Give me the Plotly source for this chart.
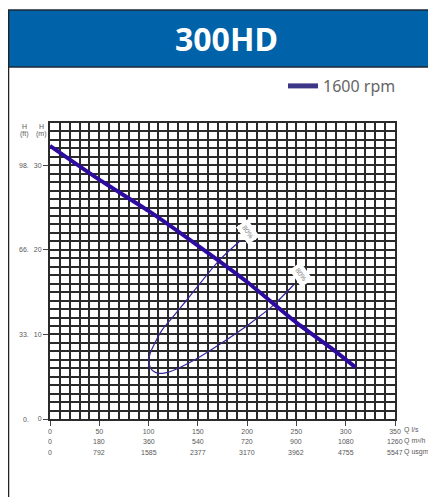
import plotly.graph_objects as go

# ---------------- data ----------------
title_text = "300HD"
series_name = "1600 rpm"

# head curve at 1600 rpm : flow (l/s) vs head (m)
curve_q = [0, 50, 100, 150, 200, 250, 285, 310]
curve_h = [32.3, 28.3, 24.6, 20.5, 16.2, 11.4, 8.4, 6.1]

# 80% efficiency iso-curve (loop)
eff_label = "80%"
eff_q = [193.3, 171.2, 139.0, 122.0, 113.6, 101.7, 100.2, 101.7, 105.0, 110.5,
         117.0, 129.0, 152.6, 173.0, 203.0, 227.0, 247.5]
eff_h = [21.1, 18.7, 14.1, 11.7, 10.5, 7.8, 6.9, 6.1, 5.65, 5.4,
         5.45, 5.95, 7.4, 8.9, 11.3, 13.5, 15.9]

# axis ticks
q_ls_ticks = [0, 50, 100, 150, 200, 250, 300, 350]
q_m3h_labels = ["0", "180", "360", "540", "720", "900", "1080", "1260"]
q_usgm_labels = ["0", "792", "1585", "2377", "3170", "3962", "4755", "5547"]
h_m_ticks = [0, 10, 20, 30]
h_ft_labels = ["0.", "33.", "66.", "98."]
x_unit_labels = ["Q l/s", "Q m³/h", "Q usgm"]

# ---------------- style ----------------
W, H = 436, 497
OFF = 8  # page body margin
L, R, T, B = 42, 49, 115, 86
pw, ph = W - L - R, H - T - B

def px_x(px):  # screenshot pixel -> paper
    return (px - OFF - L) / pw

def px_y(py):
    return (H - B - (py - OFF)) / ph

curve_col = "#2d0b9e"
grid_col = "#2a2a2a"
tick_font = dict(family="Liberation Sans, Arial, sans-serif", size=7, color="#595959")

fig = go.Figure()
fig.add_trace(go.Scatter(x=eff_q, y=eff_h, mode="lines", line=dict(color="#35289a", width=1.2, shape="spline", smoothing=0.8),
                         showlegend=False, hoverinfo="skip"))
fig.add_trace(go.Scatter(x=curve_q, y=curve_h, mode="lines", line=dict(color=curve_col, width=4, shape="spline", smoothing=0.6),
                         showlegend=False, name=series_name))
# legend entry
fig.add_trace(go.Scatter(x=[None], y=[None], mode="lines", line=dict(color="#3d3585", width=5),
                         name=series_name, showlegend=True))

annotations = []
# efficiency labels at the two branch ends
for (q, h, ys) in [(eff_q[0], eff_h[0], 9), (eff_q[-1], eff_h[-1], 10)]:
    annotations.append(dict(x=q, y=h, xref="x", yref="y", text=eff_label, showarrow=False,
                            textangle=55, bgcolor="white", borderpad=3, xshift=7, yshift=ys,
                            font=dict(family="Liberation Sans, Arial, sans-serif", size=7, color="#888")))
# x label rows 2 and 3
for q, lab in zip(q_ls_ticks, q_m3h_labels):
    annotations.append(dict(x=q, y=0, xref="x", yref="paper", text=lab, showarrow=False,
                            yanchor="middle", yshift=-22, font=tick_font))
for q, lab in zip(q_ls_ticks, q_usgm_labels):
    annotations.append(dict(x=q, y=0, xref="x", yref="paper", text=lab, showarrow=False,
                            yanchor="middle", yshift=-33, font=tick_font))
for i, lab in enumerate(x_unit_labels):
    annotations.append(dict(x=1, y=0, xref="paper", yref="paper", text=lab, showarrow=False,
                            xanchor="left", yanchor="middle", xshift=7, yshift=-11 - 11 * i, font=tick_font))
# ft labels
for h, lab in zip(h_m_ticks, h_ft_labels):
    annotations.append(dict(x=0, y=h, xref="paper", yref="y", text=lab, showarrow=False,
                            xanchor="right", yanchor="middle", xshift=-19, font=tick_font))
# unit headers
for txt, cx, cy in [("H", 24, 127), ("(ft)", 24, 134), ("H", 41, 127), ("(m)", 41, 134)]:
    annotations.append(dict(x=px_x(cx), y=px_y(cy), xref="paper", yref="paper", text=txt, showarrow=False,
                            xanchor="center", yanchor="middle", font=tick_font))
# title
annotations.append(dict(x=px_x(226), y=px_y(38), xref="paper", yref="paper", text="<b>" + title_text + "</b>",
                        showarrow=False, xanchor="center", yanchor="middle",
                        font=dict(family="Noto Sans, Open Sans, sans-serif", size=32, color="white")))

shapes = [
    dict(type="rect", xref="paper", yref="paper", x0=px_x(8), x1=px_x(450), y0=px_y(67), y1=px_y(10),
         fillcolor="#0062a8", line=dict(color="#1d2a38", width=1.5), layer="below"),
    dict(type="line", xref="paper", yref="paper", x0=px_x(8.5), x1=px_x(8.5), y0=px_y(10), y1=px_y(520),
         line=dict(color="#222", width=1.5)),
]

axis_common = dict(showline=True, mirror=True, linecolor=grid_col, linewidth=2, zeroline=False,
                   showgrid=True, gridcolor=grid_col, gridwidth=2, ticks="outside", ticklen=5,
                   tickcolor="#444", tickwidth=1, tickfont=tick_font, fixedrange=True)

fig.update_layout(
    width=W, height=H, margin=dict(l=L, r=R, t=T, b=B),
    paper_bgcolor="white", plot_bgcolor="white",
    xaxis=dict(range=[0, 350], tickvals=q_ls_ticks, ticktext=[str(v) for v in q_ls_ticks],
               minor=dict(dtick=10, tick0=0, showgrid=True, gridcolor=grid_col, gridwidth=2, ticks=""),
               **axis_common),
    yaxis=dict(range=[0, 35], tickvals=h_m_ticks, ticktext=[str(v) for v in h_m_ticks],
               minor=dict(dtick=1, tick0=0, showgrid=True, gridcolor=grid_col, gridwidth=2, ticks=""),
               **axis_common),
    showlegend=True,
    legend=dict(x=px_x(283), y=px_y(69), xanchor="left", yanchor="top", bgcolor="rgba(0,0,0,0)",
                font=dict(family="Noto Sans, Open Sans, sans-serif", size=16, color="#666"),
                itemwidth=30),
    annotations=annotations, shapes=shapes,
)

fig.write_html("out.html")
